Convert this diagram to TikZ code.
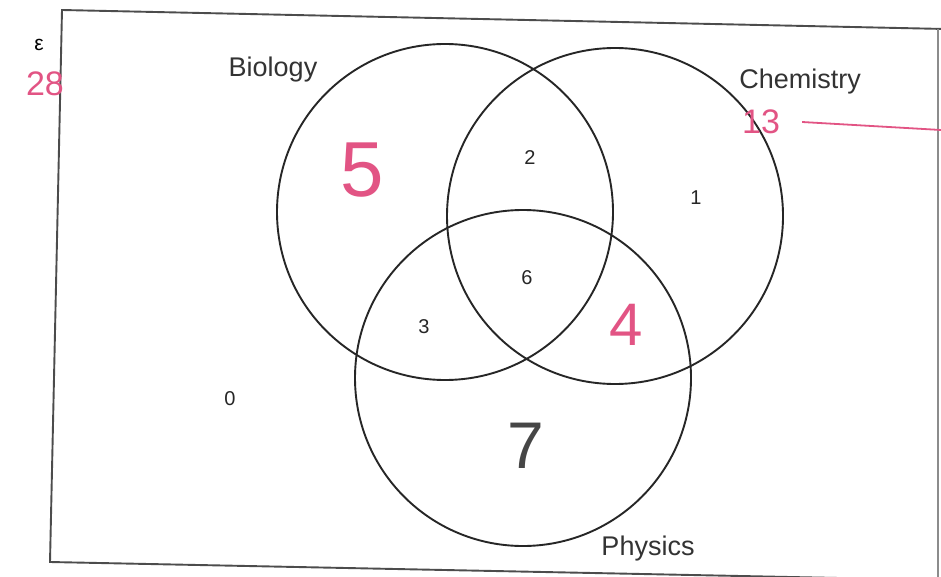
\documentclass[tikz,border=0pt]{standalone}
\usepackage{fontspec}
\setmainfont{Liberation Sans}
\definecolor{penpink}{RGB}{226,84,132}
\definecolor{inkgray}{RGB}{70,70,70}
\begin{document}
\begin{tikzpicture}[x=1pt,y=-1pt,
  setcircle/.style={circle,draw=black!85,line width=1.9pt,minimum size=336pt,inner sep=0pt},
  setlabel/.style={font=\fontsize{27}{27}\selectfont,text=black!80,inner sep=0pt},
  count/.style={font=\fontsize{20}{20}\selectfont,text=black!85,inner sep=0pt},
  hand/.style={font=\fontsize{78}{78}\selectfont,inner sep=0pt},
  handsmall/.style={font=\fontsize{34}{34}\selectfont,text=penpink,inner sep=0pt}]
\useasboundingbox (0,0) rectangle (941,577);
\fill[white] (0,0) rectangle (941,577);
% universal set frame
\coordinate (tl) at (62,10);
\coordinate (tr) at (945,29);
\coordinate (br) at (938,580);
\coordinate (bl) at (50,562);
\draw[black!70,line width=1.9pt] (tr) -- (tl) -- (bl) -- (br);
\draw[black!45,line width=1.9pt] (938,29) -- (br);
% circles
\node[setcircle] (bio) at (445,212) {};
\node[setcircle] (chem) at (615,216) {};
\node[setcircle] (phys) at (523,378) {};
% labels
\node[setlabel] (biol) at (273,70) {Biology};
\node[setlabel] (cheml) at (800,82) {Chemistry};
\node[setlabel] (physl) at (648,549) {Physics};
\node[font=\fontsize{21}{21}\selectfont,inner sep=0pt] (eps) at (39,45) {ε};
% counts
\node[count] (n2) at (530,158) {2};
\node[count] (n1) at (696,198) {1};
\node[count] (n6) at (527,278) {6};
\node[count] (n3) at (424,327) {3};
\node[count] (n0) at (230,399) {0};
% handwritten values
\node[hand,text=penpink] (n5) at (362,170) {5};
\node[hand,text=penpink,font=\fontsize{60}{60}\selectfont] (n4) at (626,325) {4};
\node[hand,text=inkgray,font=\fontsize{66}{66}\selectfont] (n7) at (526,446) {7};
\node[handsmall] (n28) at (45,84) {28};
\node[handsmall] (n13) at (761,122) {13};
\coordinate (lineend) at (941,130);
\draw[penpink,line width=1.8pt] ([xshift=22pt]n13.east) -- (lineend);
\end{tikzpicture}
\end{document}
